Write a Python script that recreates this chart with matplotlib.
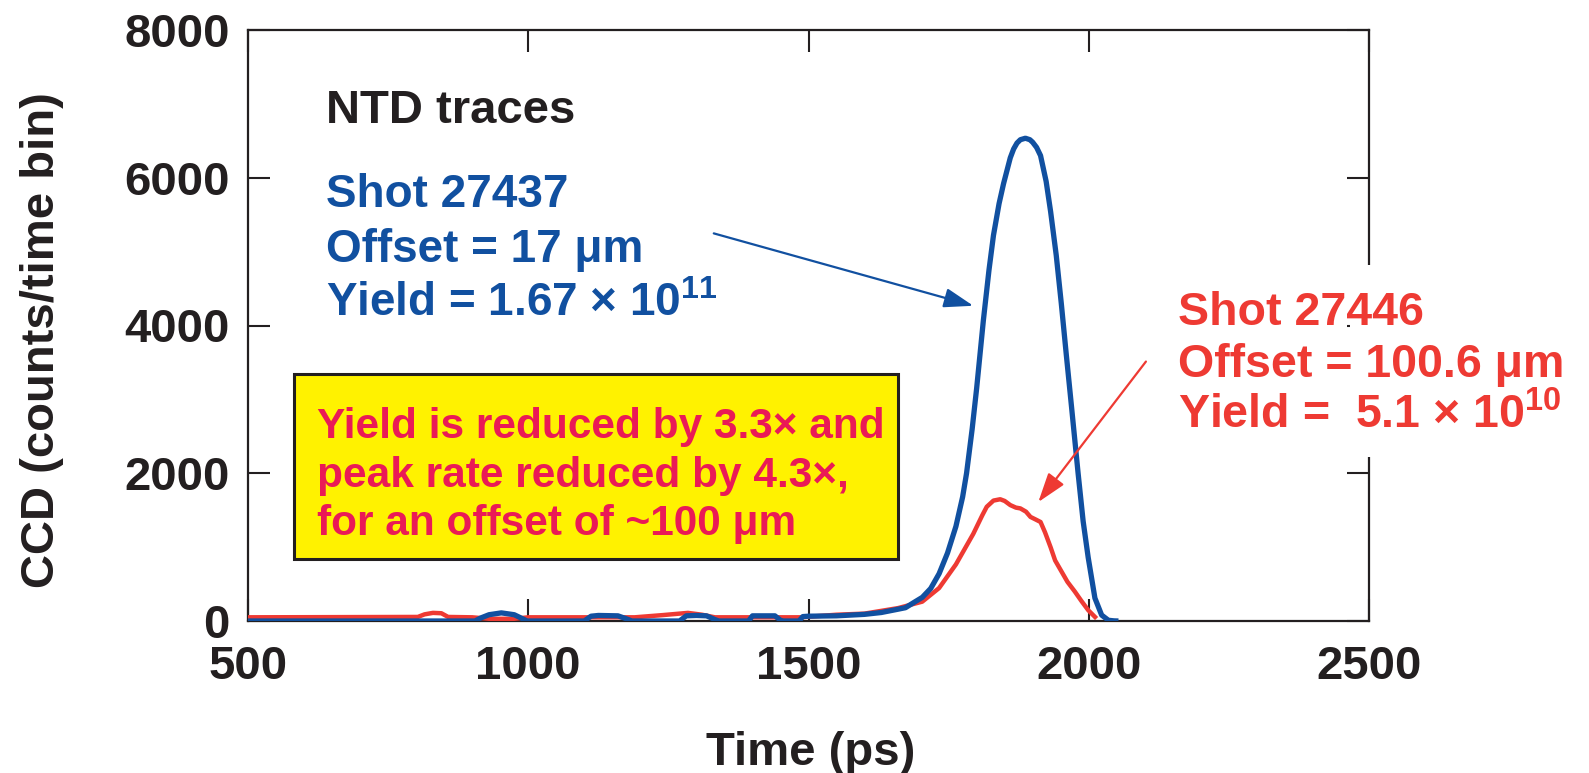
import matplotlib
matplotlib.use("Agg")
import matplotlib.pyplot as plt
from matplotlib import font_manager
from matplotlib.patches import Rectangle

# ---------------- data ----------------
blue_t = [500, 905, 915, 930, 952, 975, 990, 998, 1100, 1112, 1125, 1160, 1175, 1185,
          1270, 1282, 1300, 1318, 1333, 1340, 1393, 1400, 1440, 1450, 1455, 1483, 1490,
          1500, 1550, 1600, 1630, 1660, 1673, 1690, 1703, 1718, 1733, 1748, 1763, 1775,
          1782, 1792, 1800, 1812, 1822, 1830, 1840, 1848, 1860, 1866, 1872, 1878, 1887,
          1895, 1900, 1907, 1914, 1924, 1932, 1942, 1951, 1960, 1969, 1981, 1990, 1999,
          2011, 2023, 2035, 2045, 2053]
blue_v = [0, 0, 40, 85, 110, 85, 30, 0, 0, 65, 75, 70, 30, 0,
          0, 70, 75, 70, 20, 0, 0, 70, 70, 10, 0, 0, 60,
          65, 70, 90, 115, 160, 180, 260, 320, 440, 640, 920, 1280, 1680,
          2000, 2600, 3150, 4070, 4750, 5220, 5650, 5920, 6270, 6390, 6470, 6515, 6535,
          6515, 6480, 6410, 6300, 5950, 5540, 4950, 4300, 3600, 2920, 2000, 1350, 860,
          310, 80, 10, 2, 0]

red_t = [500, 803, 815, 830, 845, 857, 900, 930, 975, 1000, 1190, 1240, 1285, 1310, 1333,
         1487, 1550, 1600, 1660, 1703, 1733, 1763, 1794, 1810, 1818, 1830, 1842, 1850, 1860,
         1870, 1878, 1888, 1896, 1905, 1914, 1922, 1932, 1940, 1951, 1962, 1975, 1987,
         1999, 2014]
red_v = [50, 55, 90, 110, 105, 55, 50, 30, 30, 50, 50, 80, 110, 85, 50,
         50, 85, 100, 175, 262, 446, 766, 1180, 1430, 1546, 1630, 1648, 1625, 1569,
         1535, 1524, 1480, 1409, 1375, 1340, 1200, 997, 820, 675, 530, 400, 270,
         147, 33]

x_ticks = [500, 1000, 1500, 2000, 2500]
y_ticks = [0, 2000, 4000, 6000, 8000]

blue_label = ["Shot 27437", "Offset = 17 \u03bcm", "Yield = 1.67 \u00d7 $10^{11}$"]
red_label = ["Shot 27446", "Offset = 100.6 \u03bcm", "Yield =  5.1 \u00d7 $10^{10}$"]
box_lines = ["Yield is reduced by 3.3\u00d7 and",
             "peak rate reduced by 4.3\u00d7,",
             "for an offset of ~100 \u03bcm"]

# ---------------- style ----------------
BLUE = "#1150a0"
RED = "#ee3a33"
CRIMSON = "#ea1a56"
YELLOW = "#fff200"
BLACK = "#231f20"

plt.rcParams["font.family"] = ["Liberation Sans", "DejaVu Sans"]
plt.rcParams["font.weight"] = "bold"
plt.rcParams["mathtext.fontset"] = "custom"
plt.rcParams["mathtext.rm"] = "Liberation Sans:bold"
plt.rcParams["mathtext.it"] = "Liberation Sans:bold"
plt.rcParams["mathtext.bf"] = "Liberation Sans:bold"

names = {f.name for f in font_manager.fontManager.ttflist}
if "Liberation Sans Narrow" in names:
    box_family = ["Liberation Sans Narrow", "Liberation Sans", "DejaVu Sans"]
    box_size = 36
else:
    box_family = ["Liberation Sans", "DejaVu Sans"]
    box_size = 30.5

W, H = 1589, 773
fig = plt.figure(figsize=(W / 100, H / 100), dpi=100)

L, R, T, B = 248, 1369, 30, 621
ax = fig.add_axes([L / W, 1 - B / H, (R - L) / W, (B - T) / H])

ax.plot(red_t, red_v, color=RED, lw=3.2, zorder=3, solid_capstyle="butt",
        solid_joinstyle="round")
ax.plot(blue_t, blue_v, color=BLUE, lw=3.8, zorder=4, solid_capstyle="butt",
        solid_joinstyle="round")

ax.set_xlim(500, 2500)
ax.set_ylim(0, 8000)
ax.set_xticks(x_ticks)
ax.set_yticks(y_ticks)
ax.tick_params(direction="in", length=16, width=1.5, top=True, right=True,
               labelsize=34, colors=BLACK)
ax.tick_params(axis="x", pad=17)
ax.tick_params(axis="y", pad=13)
for s in ax.spines.values():
    s.set_linewidth(1.6)
    s.set_color(BLACK)


def fx(px):
    return px / W


def fy(py):
    return 1 - py / H


# axis labels
fig.text(fx(811), fy(753), "Time (ps)", ha="center", va="center", fontsize=34,
         fontweight="bold", color=BLACK)
fig.text(fx(42), fy(340), "CCD (counts/time bin)", ha="center", va="center",
         rotation=90, fontsize=34, fontweight="bold", color=BLACK)

# title-like text
fig.text(fx(326), fy(123), "NTD traces", ha="left", va="baseline", fontsize=34,
         fontweight="bold", color=BLACK)

# blue annotation
for txt, base in zip(blue_label, [207, 262, 316]):
    fig.text(fx(326), fy(base), txt, ha="left", va="baseline", fontsize=33,
             fontweight="bold", color=BLUE)

# white cover behind red text over the right spine
fig.patches.append(Rectangle((fx(1350), fy(457)), (1390 - 1350) / W, (457 - 265) / H,
                             transform=fig.transFigure, facecolor="white",
                             edgecolor="none", zorder=2))
for txt, base in zip(red_label, [325, 377, 428]):
    fig.text(fx(1178), fy(base), txt, ha="left", va="baseline", fontsize=33.5,
             fontweight="bold", color=RED, zorder=3)

# yellow box
fig.patches.append(Rectangle((fx(294), fy(559)), (898 - 294) / W, (559 - 374) / H,
                             transform=fig.transFigure, facecolor=YELLOW,
                             edgecolor=BLACK, lw=2.2, zorder=2))
for txt, base in zip(box_lines, [438, 487, 535]):
    fig.text(fx(317), fy(base), txt, ha="left", va="baseline", fontsize=box_size,
             fontweight="bold", color=CRIMSON, family=box_family, zorder=3)

# arrows
ax.annotate("", xy=(1794, 4267), xytext=(1331, 5247),
            arrowprops=dict(arrowstyle="-|>,head_length=0.9,head_width=0.3",
                            mutation_scale=20, color=BLUE, lw=1.6,
                            shrinkA=0, shrinkB=0), zorder=5)
ax.annotate("", xy=(1910, 1610), xytext=(2102, 3512),
            arrowprops=dict(arrowstyle="-|>,head_length=0.9,head_width=0.3",
                            mutation_scale=20, color=RED, lw=1.6,
                            shrinkA=0, shrinkB=0), zorder=5)

fig.savefig("out.png", dpi=100)
